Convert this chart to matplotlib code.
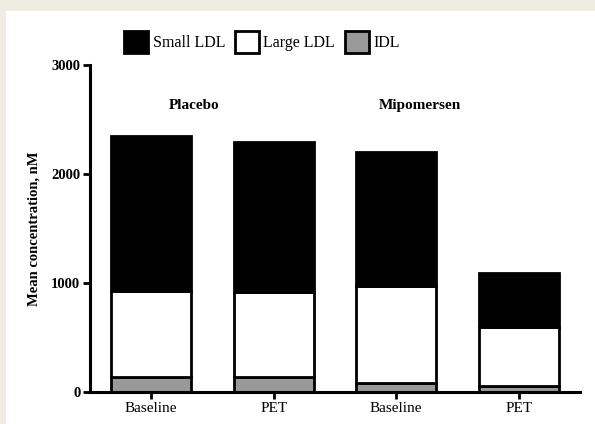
import matplotlib
matplotlib.use("Agg")
import matplotlib.pyplot as plt
from matplotlib.patches import Rectangle, Patch

categories = ["Baseline", "PET", "Baseline", "PET"]
idl = [140, 140, 80, 55]
large_ldl = [785, 780, 895, 545]
small_ldl = [1425, 1370, 1225, 490]
yticks = [0, 1000, 2000, 3000]
groups = ["Placebo", "Mipomersen"]

plt.rcParams['font.family'] = ['Liberation Serif', 'DejaVu Serif']

fig = plt.figure(figsize=(5.95, 4.24), dpi=100)
fig.patch.set_facecolor('#efede2')
fig.add_artist(Rectangle((6/595, 0), 1, 1 - 11/424, transform=fig.transFigure,
                         facecolor='white', edgecolor='none', zorder=0))

ax = fig.add_axes([90/595, 32/424, 490/595, 327/424])
ax.set_facecolor('none')
x = list(range(len(categories)))
w = 0.65
lw = 2.0
base2 = [a + b for a, b in zip(idl, large_ldl)]
ax.bar(x, idl, width=w, color='#999999', edgecolor='black', linewidth=lw, zorder=3)
ax.bar(x, large_ldl, width=w, bottom=idl, color='white', edgecolor='black', linewidth=lw, zorder=3)
ax.bar(x, small_ldl, width=w, bottom=base2, color='black', edgecolor='black', linewidth=lw, zorder=3)

ax.set_xlim(-0.5, 3.5)
ax.set_ylim(0, 3000)
ax.set_yticks(yticks)
ax.set_yticklabels([str(t) for t in yticks], fontweight='bold', fontsize=10.5)
ax.set_xticks(x)
ax.set_xticklabels(categories, fontsize=11)
for s in ['top', 'right']:
    ax.spines[s].set_visible(False)
for s in ['left', 'bottom']:
    ax.spines[s].set_linewidth(2.2)
    ax.spines[s].set_zorder(4)
ax.tick_params(axis='both', width=2, length=5, direction='out', pad=2)
ax.set_ylabel('Mean concentration, nM', fontweight='bold', fontsize=10.5, labelpad=8)

ax.text(0.35, 2630, groups[0], ha='center', va='center', fontweight='bold', fontsize=11)
ax.text(2.19, 2630, groups[1], ha='center', va='center', fontweight='bold', fontsize=11)

handles = [Patch(facecolor='black', edgecolor='black', linewidth=2),
           Patch(facecolor='white', edgecolor='black', linewidth=2),
           Patch(facecolor='#999999', edgecolor='black', linewidth=2)]
fig.legend(handles, ['Small LDL', 'Large LDL', 'IDL'], loc='center',
           bbox_to_anchor=(262/595, 1 - 42/424), ncol=3, frameon=False,
           fontsize=11.5, handlelength=1.5, handleheight=1.8, handletextpad=0.3,
           columnspacing=0.6)

fig.savefig('out.png', dpi=100, facecolor=fig.get_facecolor())
